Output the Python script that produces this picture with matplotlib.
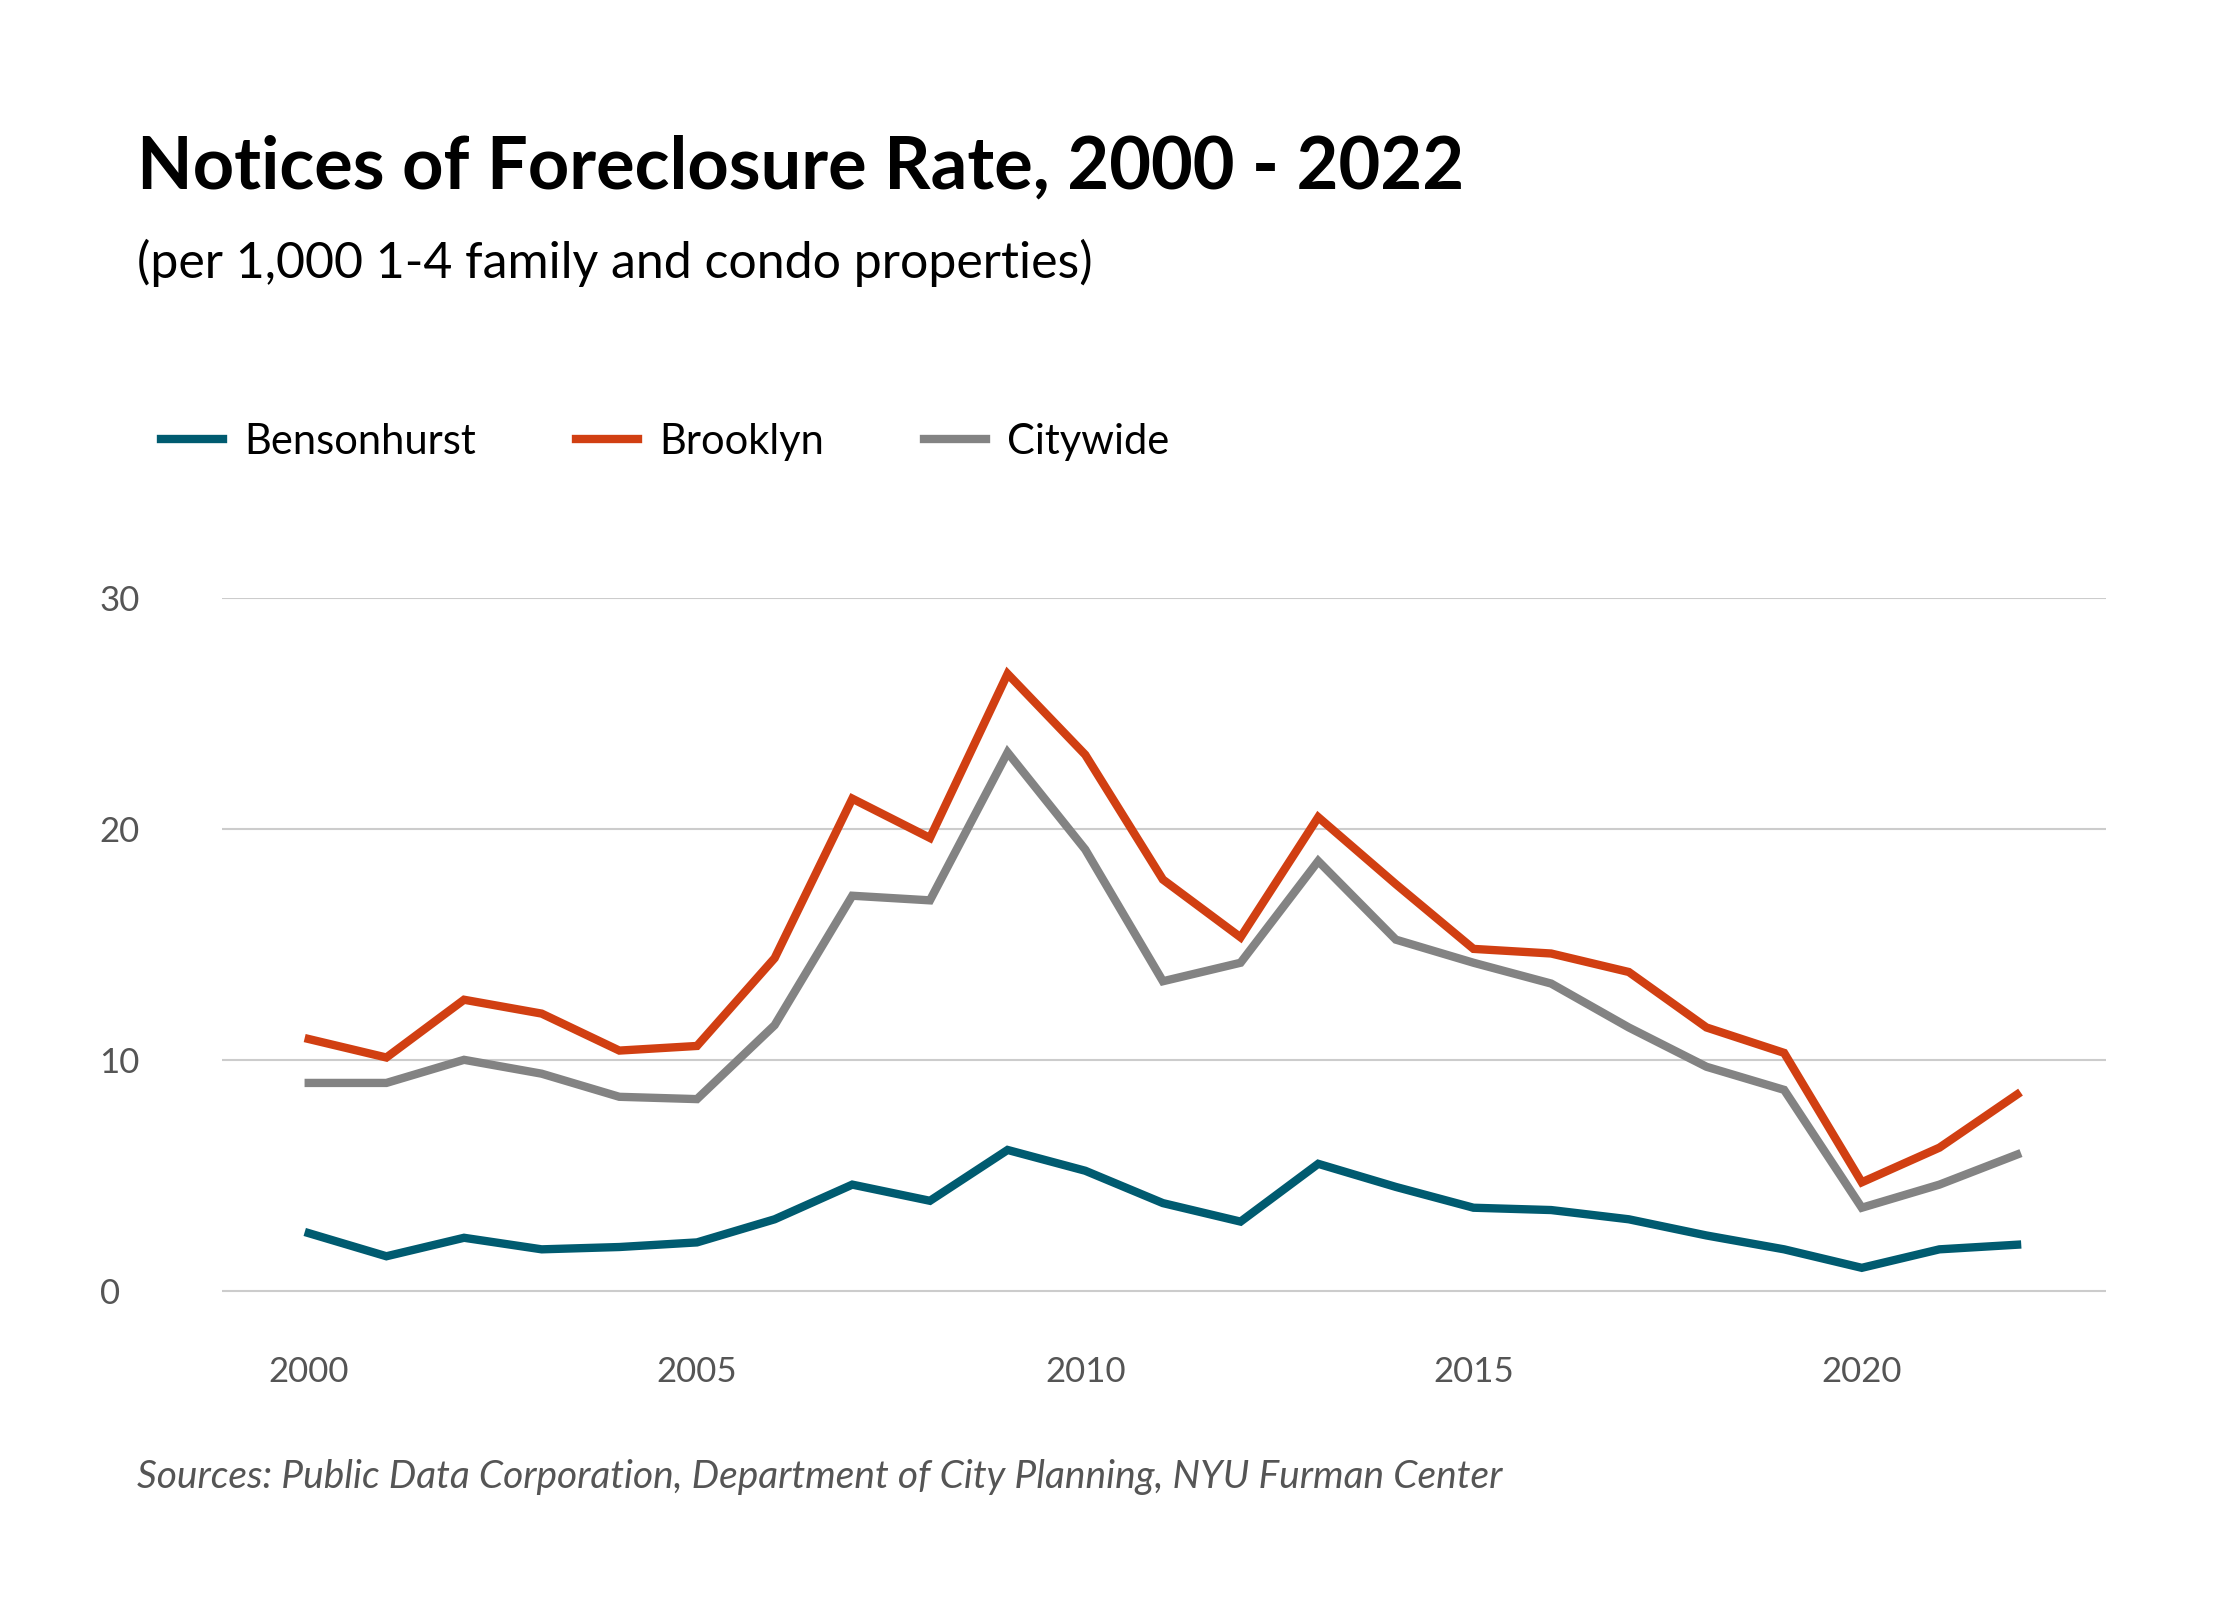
import matplotlib.pyplot as plt

years = list(range(2000, 2023))
bensonhurst = [2.5, 1.5, 2.3, 1.8, 1.9, 2.1, 3.1, 4.6, 3.9, 6.1, 5.2, 3.8, 3.0,
               5.5, 4.5, 3.6, 3.5, 3.1, 2.4, 1.8, 1.0, 1.8, 2.0]
brooklyn = [10.9, 10.1, 12.6, 12.0, 10.4, 10.6, 14.4, 21.3, 19.6, 26.7, 23.2, 17.8, 15.3,
            20.5, 17.6, 14.8, 14.6, 13.8, 11.4, 10.3, 4.7, 6.2, 8.5]
citywide = [9.0, 9.0, 10.0, 9.4, 8.4, 8.3, 11.5, 17.1, 16.9, 23.3, 19.1, 13.4, 14.2,
            18.6, 15.2, 14.2, 13.3, 11.4, 9.7, 8.7, 3.6, 4.6, 5.9]
series = [('Bensonhurst', bensonhurst, '#005b70'),
          ('Brooklyn', brooklyn, '#d13f12'),
          ('Citywide', citywide, '#838383')]

plt.rcParams['font.family'] = ['Lato', 'DejaVu Sans']

fig = plt.figure(figsize=(22.4, 16), dpi=100)
ax = fig.add_axes([0.099, 0.1715, 0.841, 0.455])

for name, vals, color in series:
    ax.plot(years, vals, color=color, lw=6, label=name, solid_joinstyle='miter')

ax.set_xlim(1998.88, 2023.14)
ax.set_ylim(-1.5, 30)
ax.set_yticks([0, 10, 20, 30])
ax.set_xticks([2000, 2005, 2010, 2015, 2020])
ax.grid(axis='y', color='#cccccc', lw=1.5)
ax.set_axisbelow(True)
for s in ax.spines.values():
    s.set_visible(False)
ax.tick_params(length=0, labelsize=25, colors='#555555')
ax.tick_params(axis='x', pad=22)
for lab in ax.get_yticklabels():
    lab.set_horizontalalignment('left')
ax.tick_params(axis='y', pad=88)

fig.text(0.061, 0.895, 'Notices of Foreclosure Rate, 2000 - 2022', fontsize=52,
         fontweight='bold', va='center')
fig.text(0.061, 0.836, '(per 1,000 1-4 family and condo properties)', fontsize=36, va='center')
fig.text(0.061, 0.077, 'Sources: Public Data Corporation, Department of City Planning, NYU Furman Center',
         fontsize=28, style='italic', color='#555555', va='center')

fig.legend(loc='center left', bbox_to_anchor=(0.055, 0.724), ncol=3, frameon=False,
           fontsize=30, handlelength=1.5, columnspacing=2.4, handletextpad=0.5)

fig.savefig('out.png', dpi=100, facecolor='white')
